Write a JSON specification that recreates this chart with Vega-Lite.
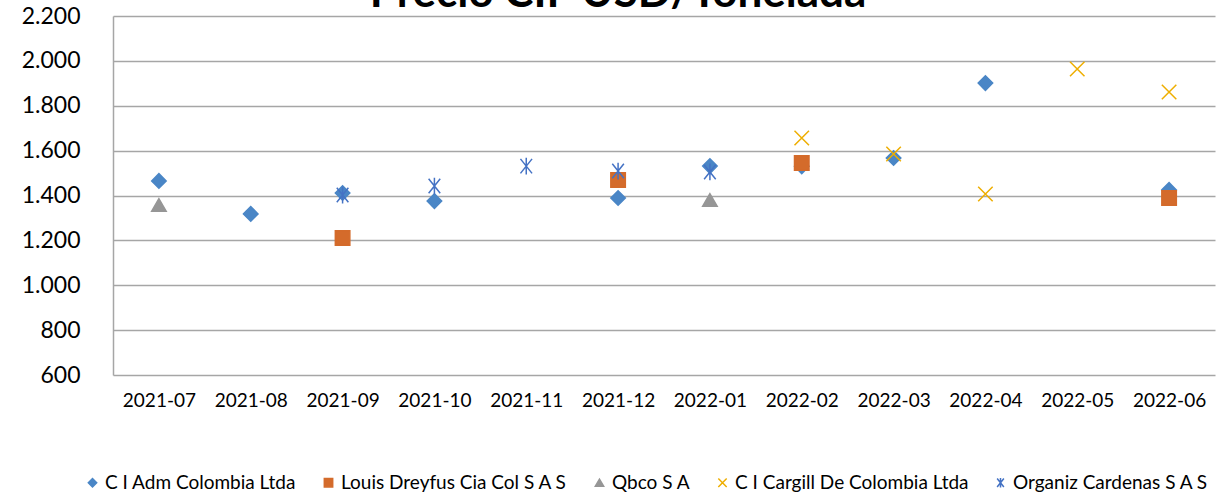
{
  "$schema": "https://vega.github.io/schema/vega-lite/v6.json",
  "width": 1102,
  "height": 359,
  "autosize": {"type": "none"},
  "padding": {"left": 113, "top": 16, "right": 15, "bottom": 123},
  "background": "white",
  "title": {
    "text": "Precio CIF USD/Tonelada",
    "font": "Lato",
    "fontSize": 44,
    "fontWeight": "bold",
    "color": "#000000",
    "anchor": "middle",
    "frame": "bounds",
    "baseline": "alphabetic",
    "offset": 0,
    "dy": 46
  },
  "data": {
    "values": [
      {"mes": "2021-07", "empresa": "C I Adm Colombia Ltda", "precio": 1465},
      {"mes": "2021-08", "empresa": "C I Adm Colombia Ltda", "precio": 1318},
      {"mes": "2021-09", "empresa": "C I Adm Colombia Ltda", "precio": 1411},
      {"mes": "2021-10", "empresa": "C I Adm Colombia Ltda", "precio": 1375},
      {"mes": "2021-12", "empresa": "C I Adm Colombia Ltda", "precio": 1389},
      {"mes": "2022-01", "empresa": "C I Adm Colombia Ltda", "precio": 1531},
      {"mes": "2022-02", "empresa": "C I Adm Colombia Ltda", "precio": 1530},
      {"mes": "2022-03", "empresa": "C I Adm Colombia Ltda", "precio": 1567},
      {"mes": "2022-04", "empresa": "C I Adm Colombia Ltda", "precio": 1901},
      {"mes": "2022-06", "empresa": "C I Adm Colombia Ltda", "precio": 1425},
      {"mes": "2021-09", "empresa": "Louis Dreyfus Cia Col S A S", "precio": 1211},
      {"mes": "2021-12", "empresa": "Louis Dreyfus Cia Col S A S", "precio": 1469},
      {"mes": "2022-02", "empresa": "Louis Dreyfus Cia Col S A S", "precio": 1545},
      {"mes": "2022-06", "empresa": "Louis Dreyfus Cia Col S A S", "precio": 1389},
      {"mes": "2021-07", "empresa": "Qbco S A", "precio": 1358},
      {"mes": "2022-01", "empresa": "Qbco S A", "precio": 1380},
      {"mes": "2022-02", "empresa": "C I Cargill De Colombia Ltda", "precio": 1656},
      {"mes": "2022-03", "empresa": "C I Cargill De Colombia Ltda", "precio": 1585},
      {"mes": "2022-04", "empresa": "C I Cargill De Colombia Ltda", "precio": 1407},
      {"mes": "2022-05", "empresa": "C I Cargill De Colombia Ltda", "precio": 1964},
      {"mes": "2022-06", "empresa": "C I Cargill De Colombia Ltda", "precio": 1861},
      {"mes": "2021-09", "empresa": "Organiz Cardenas S A S", "precio": 1402},
      {"mes": "2021-10", "empresa": "Organiz Cardenas S A S", "precio": 1442},
      {"mes": "2021-11", "empresa": "Organiz Cardenas S A S", "precio": 1531},
      {"mes": "2021-12", "empresa": "Organiz Cardenas S A S", "precio": 1509},
      {"mes": "2022-01", "empresa": "Organiz Cardenas S A S", "precio": 1505}
    ]
  },
  "mark": {"type": "point", "filled": false, "size": 210, "strokeWidth": 1.5, "opacity": 1},
  "encoding": {
    "x": {
      "field": "mes",
      "type": "ordinal",
      "sort": ["2021-07","2021-08","2021-09","2021-10","2021-11","2021-12","2022-01","2022-02","2022-03","2022-04","2022-05","2022-06"],
      "scale": {"padding": 0.5},
      "axis": {
        "title": null,
        "labelAngle": 0,
        "labelFont": "Lato",
        "labelFontSize": 19,
        "labelColor": "#000000",
        "labelPadding": 16,
        "ticks": false,
        "domain": false,
        "grid": false
      }
    },
    "y": {
      "field": "precio",
      "type": "quantitative",
      "scale": {"domain": [600, 2200], "nice": false, "zero": false},
      "axis": {
        "title": null,
        "values": [600, 800, 1000, 1200, 1400, 1600, 1800, 2000, 2200],
        "labelExpr": "replace(format(datum.value, ','), ',', '.')",
        "labelFont": "Lato",
        "labelFontSize": 23,
        "labelColor": "#000000",
        "labelPadding": 33,
        "ticks": false,
        "domain": true,
        "domainColor": "#A6A6A6",
        "domainWidth": 1.5,
        "grid": true,
        "gridColor": "#A6A6A6",
        "gridWidth": 1.5
      }
    },
    "shape": {
      "field": "empresa",
      "type": "nominal",
      "sort": ["C I Adm Colombia Ltda", "Louis Dreyfus Cia Col S A S", "Qbco S A", "C I Cargill De Colombia Ltda", "Organiz Cardenas S A S"],
      "scale": {
        "domain": ["C I Adm Colombia Ltda", "Louis Dreyfus Cia Col S A S", "Qbco S A", "C I Cargill De Colombia Ltda", "Organiz Cardenas S A S"],
        "range": ["diamond", "square", "triangle-up", "M-1,-1L1,1M-1,1L1,-1", "M-0.8,-1L0.8,1M-0.8,1L0.8,-1M0,-1.15L0,1.15"]
      },
      "legend": {
        "title": null,
        "orient": "none",
        "legendX": -30,
        "legendY": 457,
        "direction": "horizontal",
        "columns": 5,
        "columnPadding": 22,
        "labelFont": "Lato",
        "labelFontSize": 19,
        "labelColor": "#000000",
        "symbolSize": 70,
        "symbolStrokeWidth": 1.5,
        "labelOffset": 3,
        "labelLimit": 400
      }
    },
    "fill": {
      "field": "empresa",
      "type": "nominal",
      "scale": {
        "domain": ["C I Adm Colombia Ltda", "Louis Dreyfus Cia Col S A S", "Qbco S A", "C I Cargill De Colombia Ltda", "Organiz Cardenas S A S"],
        "range": ["#4A86C6", "#D46B2B", "#969696", "transparent", "transparent"]
      },
      "legend": {
        "title": null,
        "orient": "none",
        "legendX": -30,
        "legendY": 457,
        "direction": "horizontal",
        "columns": 5,
        "columnPadding": 22,
        "labelFont": "Lato",
        "labelFontSize": 19,
        "labelColor": "#000000",
        "symbolSize": 70,
        "symbolStrokeWidth": 1.5,
        "labelOffset": 3,
        "labelLimit": 400
      }
    },
    "stroke": {
      "field": "empresa",
      "type": "nominal",
      "scale": {
        "domain": ["C I Adm Colombia Ltda", "Louis Dreyfus Cia Col S A S", "Qbco S A", "C I Cargill De Colombia Ltda", "Organiz Cardenas S A S"],
        "range": ["#4A86C6", "#D46B2B", "#969696", "#EEAE00", "#4472C4"]
      },
      "legend": {
        "title": null,
        "orient": "none",
        "legendX": -30,
        "legendY": 457,
        "direction": "horizontal",
        "columns": 5,
        "columnPadding": 22,
        "labelFont": "Lato",
        "labelFontSize": 19,
        "labelColor": "#000000",
        "symbolSize": 70,
        "symbolStrokeWidth": 1.5,
        "labelOffset": 3,
        "labelLimit": 400
      }
    }
  },
  "config": {
    "view": {"stroke": null}
  }
}
